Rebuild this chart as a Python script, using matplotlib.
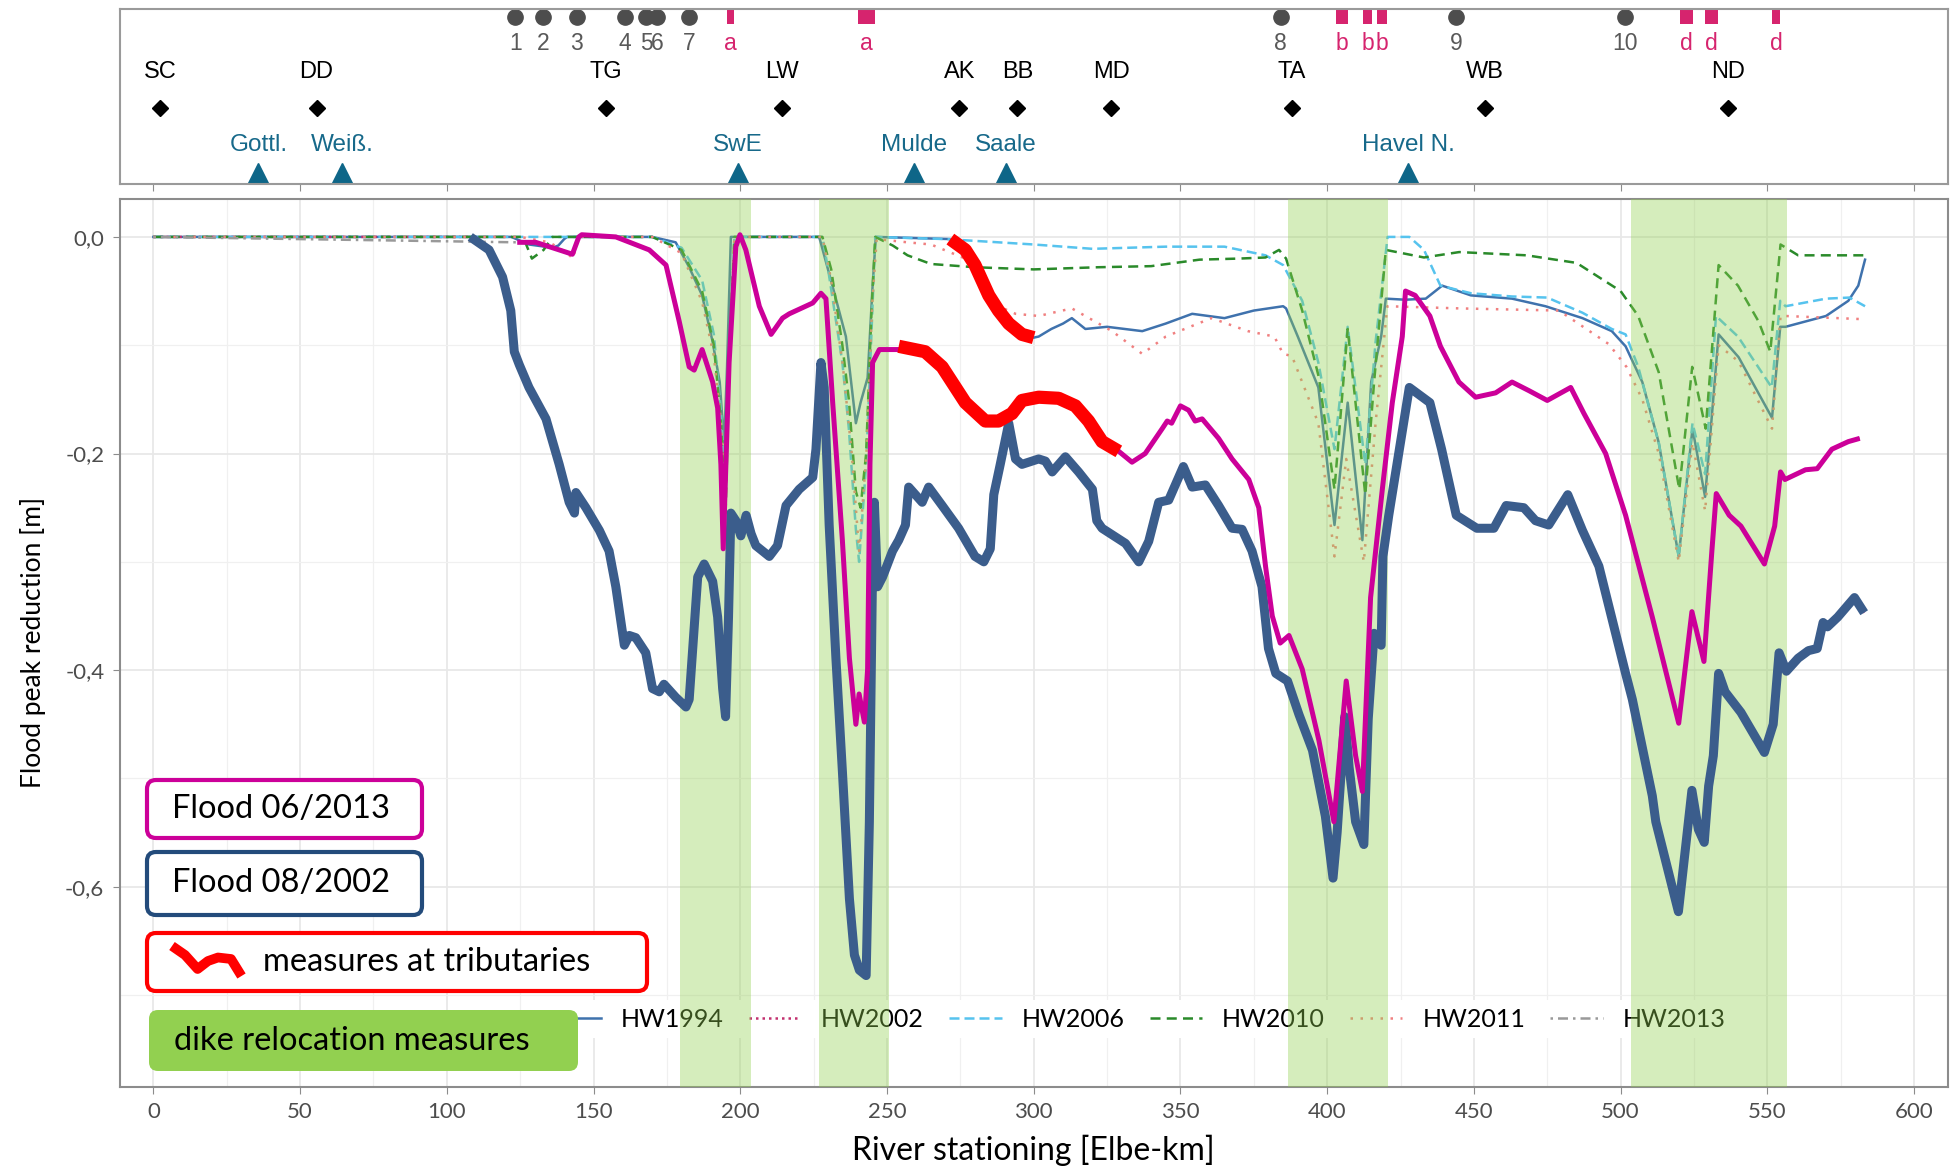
import matplotlib
matplotlib.use('Agg')
import matplotlib.pyplot as plt
from matplotlib.patches import FancyBboxPatch
from matplotlib.transforms import IdentityTransform
from matplotlib.lines import Line2D

plt.rcParams['font.family'] = ['Lato', 'DejaVu Sans']

# --- main panel data (Elbe-km, flood peak reduction in m) ---
hw2002_km = [0, 108, 114.4, 119, 121.8, 123, 124.7, 128, 133.8, 138.3, 141.7, 143.5, 144, 147.4, 152, 155.3,
             157.6, 159.9, 160.5, 162.2, 164.4, 167.8, 170.1, 172.4, 174, 178, 181.5, 182.6, 185.5, 187.7,
             190.6, 192.3, 194, 195, 196, 196.8, 198.5, 200.2, 202, 203.7, 205.3, 209.9, 212.7, 215.6, 220.1,
             224.7, 225.8, 227.5, 228.6, 230.3, 232.6, 234.8, 237.2, 238.9, 240.6, 242.9, 244, 245.1, 245.7,
             246.8, 248.5, 251.9, 254, 256.3, 257.4, 259.7, 262, 264.2, 268.8, 274.4, 280, 283, 285.2, 286.4,
             288.6, 291.5, 293.8, 296, 301.7, 304, 306.3, 310.8, 315.3, 320, 321.5, 323.3, 331.3, 335.8, 339.2,
             342.6, 346, 351, 354, 358.5, 363, 367.6, 371, 374.4, 377.8, 380, 382.5, 386.5, 390.4, 395, 399.4,
             402, 403.4, 406, 407.5, 409.7, 412.5, 414, 416, 418.4, 419, 421, 428, 435, 439, 444, 451, 456.8,
             461, 467, 471, 475.5, 482, 487, 492.6, 501.7, 504, 510.8, 512, 519.7, 524.3, 526.5, 528.5, 530,
             531.6, 533.4, 535.6, 541, 549, 552, 554, 556.5, 560.5, 564, 567, 569, 570.5, 574, 579.7, 583]
hw2002_m = [0, 0, -0.012, -0.037, -0.068, -0.106, -0.118, -0.139, -0.168, -0.21, -0.245, -0.255, -0.236, -0.25,
            -0.271, -0.29, -0.323, -0.366, -0.377, -0.368, -0.37, -0.384, -0.417, -0.42, -0.413, -0.425, -0.434,
            -0.427, -0.314, -0.302, -0.318, -0.351, -0.417, -0.443, -0.351, -0.255, -0.262, -0.276, -0.257,
            -0.274, -0.285, -0.295, -0.285, -0.248, -0.233, -0.222, -0.196, -0.116, -0.139, -0.266, -0.389,
            -0.493, -0.611, -0.663, -0.677, -0.682, -0.54, -0.304, -0.245, -0.323, -0.314, -0.29, -0.28, -0.266,
            -0.231, -0.238, -0.245, -0.231, -0.248, -0.269, -0.295, -0.3, -0.288, -0.238, -0.21, -0.172, -0.205,
            -0.21, -0.205, -0.207, -0.217, -0.203, -0.217, -0.233, -0.262, -0.269, -0.283, -0.3, -0.281, -0.245,
            -0.243, -0.212, -0.231, -0.229, -0.248, -0.269, -0.27, -0.29, -0.323, -0.38, -0.403, -0.41, -0.441,
            -0.474, -0.535, -0.592, -0.55, -0.443, -0.49, -0.54, -0.561, -0.445, -0.366, -0.377, -0.295, -0.257,
            -0.139, -0.153, -0.196, -0.257, -0.269, -0.269, -0.248, -0.25, -0.262, -0.266, -0.238, -0.271,
            -0.304, -0.403, -0.427, -0.516, -0.54, -0.623, -0.511, -0.547, -0.559, -0.507, -0.479, -0.403, -0.42,
            -0.439, -0.476, -0.45, -0.384, -0.401, -0.389, -0.382, -0.38, -0.356, -0.36, -0.351, -0.333, -0.347]

hw2013_km = [0, 124, 130.3, 138.3, 142.8, 145, 146, 157.6, 169, 174.7, 179.2, 182.6, 184.3, 187, 190.6, 192.3,
             193.4, 194.2, 196.2, 198.5, 199.9, 201.9, 206.5, 210.5, 214.4, 216.7, 224.7, 227.5, 229.2, 231.5,
             234.8, 237.2, 239.4, 240.5, 242.3, 243.4, 244.2, 245.1, 247.4, 254.2, 263, 268.8, 276.7, 283.5, 288,
             292.6, 296, 301.7, 308.5, 314.2, 318.7, 323.3, 329, 333.5, 338, 343.8, 345.5, 347, 350, 352.8, 355,
             357.4, 363, 367.6, 373.3, 376.7, 379, 381.3, 384, 387, 391.5, 397.2, 402.3, 406.5, 409.7, 412,
             414.8, 418.8, 422.2, 425.6, 426.7, 430, 435, 438.6, 444.9, 450.6, 457.4, 463, 468.8, 475, 483,
             487.5, 494.9, 501.7, 510.8, 519.8, 524.3, 528.4, 531.1, 532.6, 537, 541, 549, 552.5, 554.5, 556,
             563, 567, 572, 577.6, 581.5]
hw2013_m = [0, -0.005, -0.005, -0.012, -0.016, 0, 0.002, 0, -0.012, -0.026, -0.078, -0.12, -0.123, -0.104,
            -0.134, -0.158, -0.21, -0.288, -0.116, -0.009, 0.002, -0.012, -0.064, -0.09, -0.075, -0.071, -0.061,
            -0.052, -0.057, -0.153, -0.28, -0.389, -0.45, -0.422, -0.448, -0.399, -0.21, -0.116, -0.104, -0.104,
            -0.106, -0.12, -0.153, -0.17, -0.17, -0.163, -0.151, -0.148, -0.149, -0.156, -0.17, -0.189, -0.198,
            -0.208, -0.2, -0.177, -0.17, -0.172, -0.156, -0.16, -0.17, -0.168, -0.186, -0.205, -0.224, -0.25,
            -0.304, -0.35, -0.375, -0.368, -0.399, -0.465, -0.54, -0.41, -0.479, -0.512, -0.333, -0.233, -0.153,
            -0.092, -0.05, -0.054, -0.073, -0.101, -0.134, -0.148, -0.144, -0.134, -0.142, -0.151, -0.139,
            -0.163, -0.2, -0.257, -0.351, -0.449, -0.346, -0.392, -0.29, -0.237, -0.257, -0.267, -0.302, -0.267,
            -0.217, -0.224, -0.215, -0.214, -0.196, -0.189, -0.186]

hw1994_km = [0, 122, 128, 136, 138, 140, 141, 170, 178, 182.6, 187, 190.6, 193, 194.5, 195.5, 196.8, 226.9,
             231.4, 236, 239.4, 241, 243.4, 245.1, 246.2, 271.6, 276.7, 280, 284.7, 288, 291.5, 296, 300, 301.7,
             306, 310, 313, 317.6, 325, 337, 345, 354, 365, 375, 385, 386, 390, 397, 402.5, 407, 412, 415,
             418.4, 420, 426.7, 433.6, 439.2, 449, 463, 474.4, 487, 497, 501.7, 507.4, 513, 519.8, 524.5,
             528.8, 533.4, 540.2, 551.6, 554.4, 556.2, 570, 577.6, 581, 583.3]
hw1994_m = [0, 0, -0.007, -0.01, -0.008, -0.002, 0, 0, -0.005, -0.028, -0.054, -0.097, -0.134, -0.19, -0.12, 0,
            0, -0.045, -0.092, -0.172, -0.153, -0.13, -0.045, 0, -0.002, -0.012, -0.026, -0.054, -0.068, -0.08,
            -0.09, -0.093, -0.092, -0.085, -0.08, -0.075, -0.085, -0.083, -0.087, -0.08, -0.071, -0.075, -0.068,
            -0.064, -0.066, -0.092, -0.139, -0.266, -0.153, -0.28, -0.134, -0.092, -0.057, -0.058, -0.057,
            -0.045, -0.054, -0.057, -0.064, -0.075, -0.087, -0.101, -0.134, -0.19, -0.295, -0.177, -0.24, -0.09,
            -0.111, -0.167, -0.083, -0.083, -0.073, -0.059, -0.045, -0.021]

hw2006_km = [0, 170, 180, 187, 191, 193.4, 195, 196.5, 198, 228, 230, 234.8, 237, 239.4, 240.5, 242.9, 244.7,
             246, 270, 300, 320, 345, 365, 379, 385, 391.5, 397, 402.5, 407, 413, 416.5, 420.6, 428, 433, 438.6,
             449, 463, 475, 487, 497, 501.7, 506, 513, 519.8, 524.5, 528.8, 532.5, 540, 551.5, 554.4, 556.2,
             570, 578, 583.3]
hw2006_m = [0, 0, -0.01, -0.04, -0.09, -0.16, -0.24, -0.1, 0, 0, -0.031, -0.116, -0.177, -0.27, -0.3, -0.21,
            -0.09, 0, -0.002, -0.007, -0.011, -0.009, -0.009, -0.017, -0.026, -0.059, -0.116, -0.196, -0.083,
            -0.21, -0.097, 0, 0, -0.012, -0.045, -0.052, -0.055, -0.056, -0.07, -0.085, -0.09, -0.12, -0.19,
            -0.295, -0.172, -0.219, -0.073, -0.092, -0.139, -0.059, -0.064, -0.057, -0.056, -0.064]

hw2010_km = [0, 126, 129, 133, 136, 170, 180, 187, 191, 193.4, 195, 196.5, 198, 228, 231, 234.8, 237, 239.4,
             241, 242.9, 244.7, 246, 252, 257, 265, 280, 300, 322, 340, 356.5, 370, 379, 383.6, 386, 391.5,
             397.2, 402.5, 407, 413, 416, 420, 433, 445, 468, 485, 500, 506, 513, 520, 524.4, 529, 533.4, 540,
             547, 551, 554.5, 560.5, 583]
hw2010_m = [0, 0, -0.02, -0.012, 0, 0, -0.012, -0.05, -0.1, -0.17, -0.257, -0.09, 0, 0, -0.03, -0.1, -0.15,
            -0.235, -0.25, -0.2, -0.07, 0, -0.008, -0.017, -0.025, -0.028, -0.03, -0.028, -0.027, -0.021, -0.02,
            -0.019, -0.012, -0.02, -0.068, -0.13, -0.233, -0.085, -0.238, -0.134, -0.012, -0.019, -0.014,
            -0.017, -0.024, -0.05, -0.073, -0.125, -0.233, -0.12, -0.177, -0.026, -0.045, -0.078, -0.106,
            -0.007, -0.017, -0.017]

hw2011_km = [0, 125, 135, 141, 143, 145, 170, 180, 187, 191, 193.4, 195, 196.5, 198, 228, 231, 235, 238, 240.5,
             243, 245, 246.5, 257, 265, 276.7, 282, 288, 293.8, 301.7, 313, 326.7, 337, 345, 360.6, 373, 382,
             385, 388, 397, 402.5, 406.5, 412.5, 416.5, 420.5, 445, 479, 496, 502, 507.4, 513, 519.8, 524.5,
             528.8, 533.4, 540.2, 551.6, 554.5, 556, 583]
hw2011_m = [0, 0, -0.005, -0.015, -0.02, 0, 0, -0.015, -0.06, -0.11, -0.17, -0.25, -0.1, 0, 0, -0.04, -0.12,
            -0.2, -0.29, -0.2, -0.06, -0.002, -0.005, -0.007, -0.02, -0.035, -0.064, -0.071, -0.073, -0.066,
            -0.087, -0.108, -0.092, -0.075, -0.087, -0.092, -0.108, -0.11, -0.172, -0.295, -0.205, -0.3, -0.172,
            -0.064, -0.066, -0.068, -0.099, -0.12, -0.15, -0.2, -0.3, -0.19, -0.253, -0.1, -0.115, -0.177,
            -0.073, -0.073, -0.076]

# measures at tributaries (red overlays)
trib1_km = [271.6, 276.7, 280, 284.7, 288, 291.5, 296, 300]
trib1_m = [-0.002, -0.012, -0.026, -0.054, -0.068, -0.08, -0.09, -0.093]
trib2_km = [254, 263, 268.8, 276.7, 283.5, 288, 292.6, 296, 301.7, 308.5, 314.2, 318.7, 323.3, 329]
trib2_m = [-0.101, -0.106, -0.12, -0.153, -0.17, -0.17, -0.163, -0.151, -0.148, -0.149, -0.156, -0.17,
           -0.189, -0.198]

dike_start = [179.4, 227.0, 386.6, 503.4]
dike_end = [203.6, 250.6, 420.8, 556.7]

x_ticks = list(range(0, 601, 50))
x_minor = list(range(25, 600, 50))
y_ticks = [0, -0.2, -0.4, -0.6]
y_tick_labels = ['0,0', '-0,2', '-0,4', '-0,6']
y_minor = [-0.1, -0.3, -0.5, -0.7]

# --- top panel data ---
gauge_km = [123.4, 132.9, 144.3, 160.7, 167.9, 171.7, 182.5, 384.2, 443.9, 501.6]
gauge_lab = ['1', '2', '3', '4', '5', '6', '7', '8', '9', '10']
polder_km = [196.8, 243.0, 405.0, 413.8, 418.8, 522.5, 531.0, 553.0]
polder_w = [2.3, 6.0, 4.0, 3.0, 3.5, 4.5, 4.5, 2.5]
polder_lab = ['a', 'a', 'b', 'b', 'b', 'd', 'd', 'd']
city_km = [2.3, 55.6, 154.2, 214.3, 274.6, 294.4, 326.5, 388.0, 453.7, 536.5]
city_lab = ['SC', 'DD', 'TG', 'LW', 'AK', 'BB', 'MD', 'TA', 'WB', 'ND']
trib_km = [35.8, 64.4, 199.1, 259.3, 290.6, 427.6]
trib_lab = ['Gottl.', 'Weiß.', 'SwE', 'Mulde', 'Saale', 'Havel N.']

W, H = 1954, 1176
fig = plt.figure(figsize=(W / 100, H / 100), dpi=100)


def fig_rect(left, top, right, bottom):
    return [left / W, 1 - bottom / H, (right - left) / W, (bottom - top) / H]


ax_top = fig.add_axes(fig_rect(119.6, 8.7, 1947.8, 184))
ax = fig.add_axes(fig_rect(119.6, 199, 1947.8, 1086.6))
xlim = (-11.5, 611.5)

# ---------------- top panel ----------------
sans = ['Liberation Sans', 'DejaVu Sans']
ax_top.set_xlim(xlim)
ax_top.set_ylim(0, 1)
ax_top.set_yticks([])
ax_top.set_xticks(x_ticks)
ax_top.tick_params(axis='x', length=5, color='#8c8c8c', labelbottom=False)
for s in ax_top.spines.values():
    s.set_color('#9a9a9a')
    s.set_linewidth(1.5)

ax_top.bar(polder_km, 0.086, width=polder_w, bottom=0.914, color='#d6246e')
for k, lab in zip(polder_km, polder_lab):
    ax_top.text(k, 0.80, lab, ha='center', va='center', fontsize=16.5, color='#d6246e', family=sans)
ax_top.plot(gauge_km, [0.952] * len(gauge_km), 'o', ms=11, color='#4d4d4d', clip_on=False)
for k, lab in zip(gauge_km, gauge_lab):
    ax_top.text(k, 0.80, lab, ha='center', va='center', fontsize=16.5, color='#595959', family=sans)
ax_top.plot(city_km, [0.436] * len(city_km), 'D', ms=8.5, color='black')
for k, lab in zip(city_km, city_lab):
    ax_top.text(k, 0.638, lab, ha='center', va='center', fontsize=17, color='black', family=sans)
ax_top.plot(trib_km, [0.06] * len(trib_km), '^', ms=15, color='#0e6688', clip_on=False)
for k, lab in zip(trib_km, trib_lab):
    ax_top.text(k, 0.223, lab, ha='center', va='center', fontsize=17.5, color='#17698a', family=sans)

# ---------------- main panel ----------------
ax.set_xlim(xlim)
ax.set_ylim(-0.7845, 0.035)
ax.set_axisbelow(True)
ax.set_xticks(x_ticks)
ax.set_xticks(x_minor, minor=True)
ax.set_yticks(y_ticks)
ax.set_yticklabels(y_tick_labels)
ax.set_yticks(y_minor, minor=True)
ax.grid(which='major', color='#e8e8e8', lw=1.3)
ax.grid(which='minor', color='#f0f0f0', lw=0.9)
ax.tick_params(which='major', length=5, color='#8c8c8c', labelsize=16, labelcolor='#4d4d4d', pad=6)
ax.tick_params(which='minor', length=0)
for s in ax.spines.values():
    s.set_color('#8c8c8c')
    s.set_linewidth(1.5)

thin = [
    ('HW1994', hw1994_km, hw1994_m, '#3f72ad', '-'),
    ('HW2002', hw2002_km, hw2002_m, '#c2306f', (0, (1, 1.6))),
    ('HW2006', hw2006_km, hw2006_m, '#56c3ee', (0, (4, 2))),
    ('HW2010', hw2010_km, hw2010_m, '#2a8a2a', (0, (4, 2.5))),
    ('HW2011', hw2011_km, hw2011_m, '#f08080', (0, (1, 3))),
    ('HW2013', hw2013_km, hw2013_m, '#999999', (0, (1, 2, 4, 2))),
]
handles = []
for name, xs, ys, col, ls in thin:
    h, = ax.plot(xs, ys, color=col, ls=ls, lw=1.8, label=name, zorder=2)
    handles.append(h)

leg = ax.legend(handles=handles, loc='center', bbox_to_anchor=(0.5565, 0.076), ncol=6, fontsize=18,
                handlelength=2.1, handletextpad=0.8, columnspacing=1.0, borderpad=0.3, frameon=True)
leg.get_frame().set_facecolor('white')
leg.get_frame().set_edgecolor('none')
leg.get_frame().set_alpha(1)
leg.set_zorder(3)

for a, b in zip(dike_start, dike_end):
    ax.axvspan(a, b, color='#92d050', alpha=0.38, lw=0, zorder=4)

# thick highlight of the two big floods, starting where they leave the zero line
ax.plot(hw2002_km[1:], hw2002_m[1:], color='#3b5d8c', lw=6.5, zorder=5, solid_joinstyle='round',
        solid_capstyle='butt')
ax.plot(hw2013_km[1:], hw2013_m[1:], color='#cc0099', lw=3.6, zorder=5, solid_joinstyle='round',
        solid_capstyle='butt')
ax.plot(trib1_km, trib1_m, color='#ff0000', lw=9.5, zorder=6, solid_capstyle='butt')
ax.plot(trib2_km, trib2_m, color='#ff0000', lw=9.5, zorder=6, solid_capstyle='butt')

ax.set_xlabel('River stationing [Elbe-km]', fontsize=23, labelpad=9)
ax.set_ylabel('Flood peak reduction [m]', fontsize=19, labelpad=14)

# ---------------- annotation boxes (pixel positions) ----------------
px = IdentityTransform()


def box(x0, y0, x1, y1, edge, face='white', lw=3.0):
    p = FancyBboxPatch((x0, H - y1), x1 - x0, y1 - y0, boxstyle='round,pad=0,rounding_size=9',
                       transform=px, facecolor=face, edgecolor=edge, lw=lw, zorder=10)
    fig.patches.append(p)


box(147, 780, 422, 838, '#cc0099')
fig.text(172, H - 809, 'Flood 06/2013', transform=px, fontsize=23.5, va='center', zorder=11)
box(147, 852, 422, 915, '#234b7b')
fig.text(172, H - 883.5, 'Flood 08/2002', transform=px, fontsize=23.5, va='center', zorder=11)
box(147, 933, 647, 991, '#ff0000')
fig.text(263, H - 962, 'measures at tributaries', transform=px, fontsize=23.5, va='center', zorder=11)
icon_x = [172, 185, 197.6, 208, 218, 231, 241.5]
icon_y = [946, 955, 969, 961, 957.5, 959, 976]
fig.lines.append(Line2D(icon_x, [H - v for v in icon_y], transform=px, color='#ff0000', lw=7,
                        solid_capstyle='butt', zorder=11))
box(149, 1010, 578, 1071, 'none', face='#92d050', lw=0)
fig.text(174, H - 1040.5, 'dike relocation measures', transform=px, fontsize=23.5, va='center', zorder=11)

fig.savefig('out.png', dpi=100)
